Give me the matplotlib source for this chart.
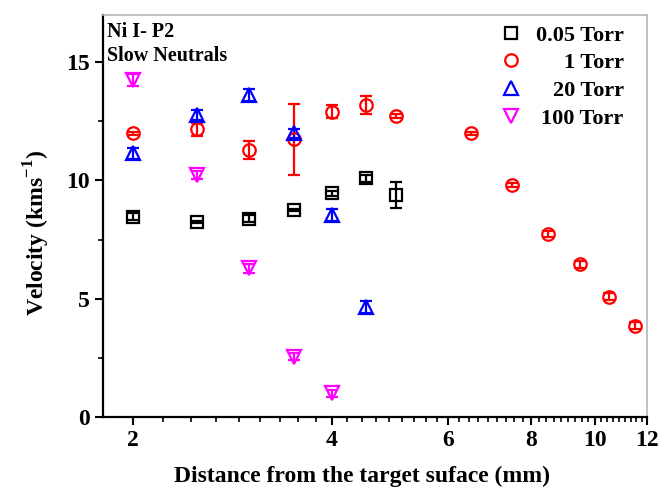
import numpy as np
import matplotlib.pyplot as plt
from matplotlib.ticker import FixedLocator, FixedFormatter, NullFormatter

plt.rcParams['font.family'] = 'Liberation Serif'
plt.rcParams['font.weight'] = 'bold'
plt.rcParams['mathtext.fontset'] = 'custom'
plt.rcParams['mathtext.rm'] = 'Liberation Serif:bold'
plt.rcParams['mathtext.bf'] = 'Liberation Serif:bold'

# 0.05 Torr
x_005 = [2.0, 2.5, 3.0, 3.5, 4.0, 4.5, 5.0]
v_005 = [8.47, 8.25, 8.38, 8.75, 9.45, 10.09, 9.38]
e_005 = [0.15, 0.05, 0.15, 0.05, 0.12, 0.15, 0.54]

# 1 Torr
x_1 = [2.0, 2.5, 3.0, 3.5, 4.0, 4.5, 5.0, 6.5, 7.5, 8.5, 9.5, 10.5, 11.5]
v_1 = [11.99, 12.16, 11.28, 11.75, 12.90, 13.19, 12.72, 11.99, 9.81, 7.73, 6.45, 5.08, 3.85]
e_1 = [0.05, 0.26, 0.37, 1.5, 0.27, 0.38, 0.1, 0.05, 0.1, 0.12, 0.15, 0.15, 0.15]

# 20 Torr
x_20 = [2.0, 2.5, 3.0, 3.5, 4.0, 4.5]
v_20 = [11.14, 12.76, 13.61, 11.99, 8.54, 4.66]
e_20 = [0.25, 0.2, 0.25, 0.2, 0.25, 0.25]

# 100 Torr
x_100 = [2.0, 2.5, 3.0, 3.5, 4.0]
v_100 = [14.24, 10.23, 6.28, 2.55, 1.0]
e_100 = [0.25, 0.15, 0.2, 0.15, 0.15]

series = [
    (x_005, v_005, e_005, 's', 8.5, 'black', '0.05 Torr'),
    (x_1, v_1, e_1, 'o', 9, 'red', '1 Torr'),
    (x_20, v_20, e_20, '^', 10.5, 'blue', '20 Torr'),
    (x_100, v_100, e_100, 'v', 10.5, 'magenta', '100 Torr'),
]

fig = plt.figure(figsize=(6.69, 4.88), dpi=100)
ax = fig.add_axes([0.154, 0.1455, 0.813, 0.824])

handles = []
for xs, vs, es, mk, ms, col, lab in series:
    ax.errorbar(xs, vs, yerr=es, fmt='none', ecolor=col, elinewidth=1.6,
                capsize=4, capthick=1.6, zorder=2)
    h, = ax.plot(xs, vs, mk, ms=ms, mfc='none', mec=col, mew=1.6,
                 ls='none', label=lab, zorder=3)
    handles.append(h)

ax.set_xscale('log')
ax.set_xlim(1.8, 12)
ax.set_ylim(0, 17)

majors = [2, 4, 6, 8, 10, 12]
ax.xaxis.set_major_locator(FixedLocator(majors))
ax.xaxis.set_major_formatter(FixedFormatter([str(m) for m in majors]))
minors = [a + k * 2 / 9 for a in majors[:-1] for k in range(1, 9)]
ax.xaxis.set_minor_locator(FixedLocator(minors))
ax.xaxis.set_minor_formatter(NullFormatter())

ax.set_yticks([0, 5, 10, 15])
ax.set_yticks([2.5, 7.5, 12.5], minor=True)

ax.tick_params(axis='both', which='major', direction='out', length=6, width=1.5,
               labelsize=17, top=False, right=False)
ax.tick_params(axis='both', which='minor', direction='out', length=3.5, width=1.2,
               top=False, right=False)
for lab in ax.get_xticklabels() + ax.get_yticklabels():
    lab.set_fontweight('bold')

for s in ['left', 'bottom']:
    ax.spines[s].set_linewidth(1.6)
    ax.spines[s].set_color('black')
for s in ['top', 'right']:
    ax.spines[s].set_linewidth(1.2)
    ax.spines[s].set_color('#b5b5b5')

ax.set_xlabel('Distance from the target suface (mm)', fontsize=17, fontweight='bold')
ax.xaxis.set_label_coords(0.476, -0.121)
ax.set_ylabel('Velocity (kms$^{-1}$)', fontsize=17, fontweight='bold')
ax.yaxis.set_label_coords(-0.094, 0.458)

ax.text(0.008, 0.957, 'Ni I- P2', transform=ax.transAxes, fontsize=14.5, fontweight='bold',
        va='center', ha='left')
ax.text(0.008, 0.897, 'Slow Neutrals', transform=ax.transAxes, fontsize=14.5, fontweight='bold',
        va='center', ha='left')

leg = ax.legend(handles=handles, loc='upper right', bbox_to_anchor=(0.99, 1.019),
                frameon=False, fontsize=16, handlelength=1.0, handletextpad=0.6,
                labelspacing=0.32, borderaxespad=0.4)
for t in leg.get_texts():
    t.set_fontweight('bold')
fig.canvas.draw()
renderer = fig.canvas.get_renderer()
widths = [t.get_window_extent(renderer).width for t in leg.get_texts()]
shift = max(widths)
for t, w in zip(leg.get_texts(), widths):
    t.set_position((shift - w, 0))

fig.savefig('out.png', dpi=100)
